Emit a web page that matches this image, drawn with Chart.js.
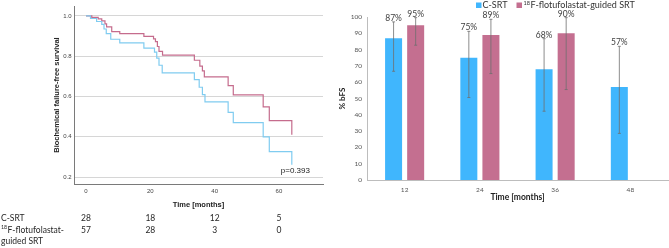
<!DOCTYPE html>
<html>
<head>
<meta charset="utf-8">
<script src="https://cdn.jsdelivr.net/npm/chart.js@4.4.1/dist/chart.umd.min.js"></script>
<style>
  html, body { margin: 0; padding: 0; background: #fff; width: 669px; height: 248px; overflow: hidden; }
  #km { position: absolute; left: 0; top: 0; }
  #bars { position: absolute; left: 332px; top: 0; }
</style>
</head>
<body>
<canvas id="km" width="332" height="248"></canvas>
<canvas id="bars" width="337" height="210"></canvas>
<script>
// Kaplan-Meier curves (months, survival)
const flotMonths = [0, 1.8, 3.8, 4.9, 5.9, 6.4, 8, 10.5, 18, 21, 21.6, 22.2, 22.7, 23.8, 33.7, 35.4, 36.2, 36.8, 44.2, 45.8, 55.1, 57, 64];
const flotSurv   = [1.0, 0.993, 0.985, 0.975, 0.96, 0.945, 0.922, 0.912, 0.898, 0.886, 0.872, 0.848, 0.824, 0.805, 0.78, 0.751, 0.727, 0.697, 0.654, 0.608, 0.549, 0.48, 0.41];
const csrtMonths = [0, 1.4, 3.3, 4.9, 5.6, 6.3, 7.7, 10.5, 18, 21.3, 22, 22.7, 23.7, 33.7, 35.2, 36.2, 37, 44.2, 45.8, 55.1, 57, 64];
const csrtSurv   = [1.0, 0.987, 0.972, 0.958, 0.935, 0.912, 0.884, 0.866, 0.84, 0.82, 0.79, 0.755, 0.717, 0.684, 0.646, 0.609, 0.573, 0.521, 0.47, 0.4, 0.327, 0.262];
const kmXTicks = [0, 20, 40, 60];
const kmYTicks = [0.2, 0.4, 0.6, 0.8, 1.0];
const pValue = 'p=0.393';

// number at risk
const riskTimes = [0, 20, 40, 60];
const riskCsrt = [28, 18, 12, 5];
const riskFlot = [57, 28, 3, 0];

// bar chart: % bFS with confidence intervals
const barMonths = ['12', '24', '36', '48'];
const csrtBfs  = [87, 75, 68, 57];
const csrtLow  = [66.7, 50.6, 42.2, 28.6];
const csrtHigh = [97, 91.2, 86.7, 82];
const flotBfs  = [95, 89, 90, null];
const flotLow  = [82.7, 65.3, 55.5, null];
const flotHigh = [99.6, 98.6, 99.6, null];

const BLUE_LINE = '#80ccf0';
const PINK_LINE = '#c56c8d';
const BLUE_BAR = '#40b6fd';
const PINK_BAR = '#c46f90';

// text with a leading superscript
function supText(ctx, x, y, sup, text, size, family) {
    ctx.save();
    ctx.textAlign = 'left';
    ctx.font = (size * 0.62) + 'px ' + family;
    ctx.fillText(sup, x, y - size * 0.3);
    const w = ctx.measureText(sup).width;
    ctx.font = size + 'px ' + family;
    ctx.fillText(text, x + w + 0.5, y);
    ctx.restore();
}

const kmExtras = {
    id: 'kmExtras',
    afterDraw(chart) {
        const { ctx, scales: { x, y } } = chart;
        ctx.save();
        ctx.fillStyle = '#222';
        ctx.textBaseline = 'middle';
        ctx.textAlign = 'center';
        ctx.font = '8px "Liberation Sans", Arial';
        ctx.fillText(pValue, x.getPixelForValue(65.1), y.getPixelForValue(0.232));

        // number-at-risk table
        ctx.font = '8.5px Lato';
        ctx.fillStyle = '#262626';
        ctx.textAlign = 'left';
        ctx.fillText('C-SRT', 1, 218);
        supText(ctx, 1, 230, '18', 'F-flotufolastat-', 8.5, 'Lato');
        ctx.fillText('guided SRT', 1, 241.5);
        ctx.textAlign = 'center';
        riskTimes.forEach((t, i) => {
            const px = x.getPixelForValue(t);
            ctx.fillText(String(riskCsrt[i]), px, 218);
            ctx.fillText(String(riskFlot[i]), px, 230);
        });
        ctx.restore();
    }
};

new Chart(document.getElementById('km'), {
    type: 'line',
    data: {
        datasets: [
            {
                label: 'C-SRT',
                data: csrtMonths.map((m, i) => ({ x: m, y: csrtSurv[i] })),
                borderColor: BLUE_LINE,
                borderWidth: 1.2,
                pointRadius: 0,
                stepped: 'before',
                fill: false
            },
            {
                label: '18F-flotufolastat-guided SRT',
                data: flotMonths.map((m, i) => ({ x: m, y: flotSurv[i] })),
                borderColor: PINK_LINE,
                borderWidth: 1.2,
                pointRadius: 0,
                stepped: 'before',
                fill: false
            }
        ]
    },
    options: {
        responsive: false,
        animation: false,
        layout: { padding: { left: 0, right: 9, top: 2, bottom: 38 } },
        plugins: { legend: { display: false }, tooltip: { enabled: false } },
        scales: {
            x: {
                type: 'linear',
                min: -3.73,
                max: 73.7,
                afterBuildTicks: s => { s.ticks = kmXTicks.map(v => ({ value: v })); },
                afterFit: s => { s.height = 26; },
                grid: { display: false, drawTicks: false },
                border: { color: '#7a7a7a', width: 1 },
                ticks: { font: { size: 6, family: '"Liberation Sans", Arial' }, color: '#444', padding: 3.5, maxRotation: 0 },
                title: {
                    display: true,
                    text: 'Time [months]',
                    font: { size: 7.5, weight: 'bold', family: '"Liberation Sans", Arial' },
                    color: '#222',
                    padding: { top: 0, bottom: 0.5 }
                }
            },
            y: {
                min: 0.166,
                max: 1.0485,
                afterBuildTicks: s => { s.ticks = kmYTicks.map(v => ({ value: v })); },
                afterFit: s => { s.width = 74; },
                grid: { color: '#d6d6d6', drawTicks: false },
                border: { color: '#7a7a7a', width: 1 },
                ticks: {
                    font: { size: 6, family: '"Liberation Sans", Arial' },
                    color: '#444',
                    padding: 2.5,
                    callback: v => v.toFixed(1)
                },
                title: {
                    display: true,
                    text: 'Biochemical failure-free survival',
                    font: { size: 7.5, weight: 'bold', family: '"Liberation Sans", Arial' },
                    color: '#222',
                    padding: { top: 52.5, bottom: 0 }
                }
            }
        }
    },
    plugins: [kmExtras]
});

const barExtras = {
    id: 'barExtras',
    afterDatasetsDraw(chart) {
        const { ctx, scales: { y } } = chart;
        const sets = [
            { vals: csrtBfs, low: csrtLow, high: csrtHigh },
            { vals: flotBfs, low: flotLow, high: flotHigh }
        ];
        ctx.save();
        sets.forEach((s, di) => {
            const meta = chart.getDatasetMeta(di);
            meta.data.forEach((bar, i) => {
                if (s.vals[i] == null) return;
                const yl = y.getPixelForValue(s.low[i]);
                const yh = y.getPixelForValue(s.high[i]);
                ctx.strokeStyle = '#6e6e6e';
                ctx.lineWidth = 0.8;
                ctx.beginPath();
                ctx.moveTo(bar.x, yl); ctx.lineTo(bar.x, yh);
                ctx.moveTo(bar.x - 1.5, yl); ctx.lineTo(bar.x + 1.5, yl);
                ctx.moveTo(bar.x - 1.5, yh); ctx.lineTo(bar.x + 1.5, yh);
                ctx.stroke();
                ctx.fillStyle = '#404040';
                ctx.font = '8.5px Lato';
                ctx.textAlign = 'center';
                ctx.textBaseline = 'bottom';
                ctx.fillText(s.vals[i] + '%', bar.x, yh + 0.5);
            });
        });

        // legend
        ctx.textBaseline = 'middle';
        ctx.textAlign = 'left';
        ctx.fillStyle = BLUE_BAR;
        ctx.fillRect(144, 2.5, 5.5, 5.5);
        ctx.fillStyle = '#333';
        ctx.font = '9px Lato';
        ctx.fillText('C-SRT', 150.5, 5.5);
        ctx.fillStyle = PINK_BAR;
        ctx.fillRect(184.5, 2.5, 5.5, 5.5);
        ctx.fillStyle = '#333';
        supText(ctx, 191.5, 5.5, '18', 'F-flotufolastat-guided SRT', 9, 'Lato');
        ctx.restore();
    }
};

new Chart(document.getElementById('bars'), {
    type: 'bar',
    data: {
        labels: barMonths,
        datasets: [
            { label: 'C-SRT', data: csrtBfs, backgroundColor: BLUE_BAR, categoryPercentage: 0.587, barPercentage: 0.77 },
            { label: '18F-flotufolastat-guided SRT', data: flotBfs, backgroundColor: PINK_BAR, categoryPercentage: 0.587, barPercentage: 0.77 }
        ]
    },
    options: {
        responsive: false,
        animation: false,
        layout: { padding: { left: 0, right: 1, top: 17, bottom: 8 } },
        plugins: { legend: { display: false }, tooltip: { enabled: false } },
        scales: {
            x: {
                afterFit: s => { s.height = 22; },
                grid: { display: false, drawTicks: false },
                border: { color: '#bdbdbd', width: 1 },
                ticks: { font: { size: 6.5, family: 'Lato' }, color: '#555', padding: 6 },
                title: {
                    display: true,
                    text: 'Time [months]',
                    font: { size: 8.5, weight: 'bold', family: 'Lato' },
                    color: '#222',
                    padding: { top: 0, bottom: 0 }
                }
            },
            y: {
                min: 0,
                max: 100,
                afterFit: s => { s.width = 35; },
                grid: { display: false, drawTicks: false },
                border: { color: '#bdbdbd', width: 1 },
                ticks: { stepSize: 10, font: { size: 6.5, family: 'Lato' }, color: '#555', padding: 5 },
                title: {
                    display: true,
                    text: '% bFS',
                    font: { size: 8, weight: 'bold', family: 'Lato' },
                    color: '#222',
                    padding: { top: 6, bottom: 0 }
                }
            }
        }
    },
    plugins: [barExtras]
});
</script>
</body>
</html>
